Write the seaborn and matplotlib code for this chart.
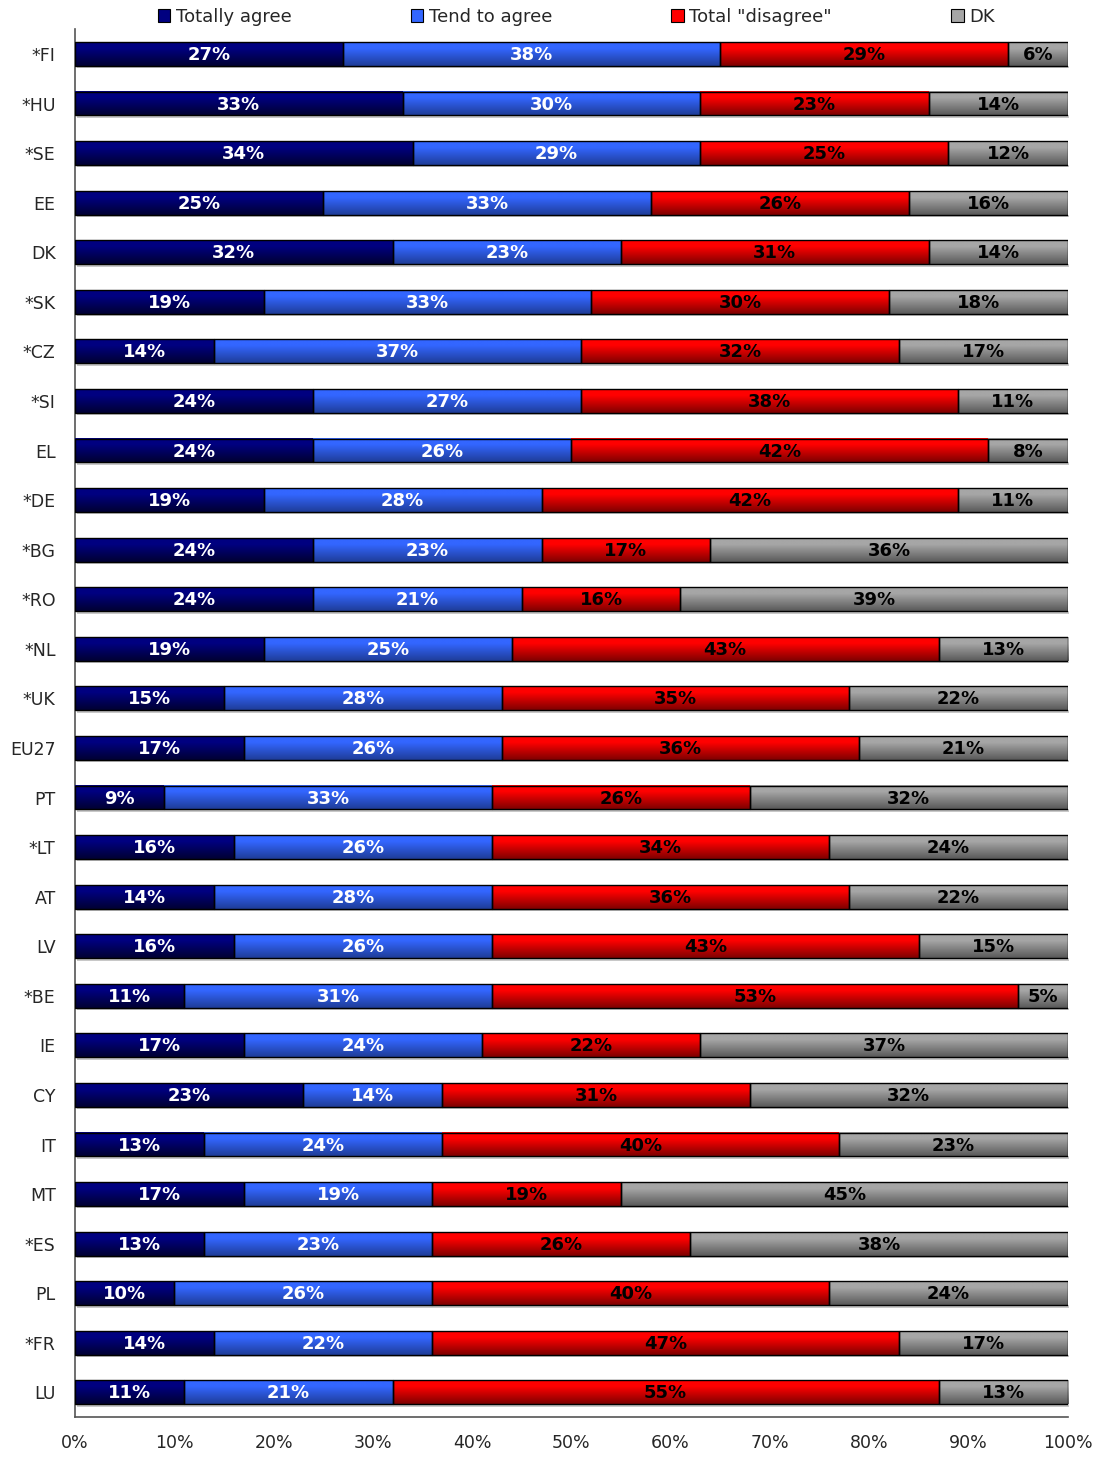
import numpy as np
import pandas as pd
import matplotlib
matplotlib.use("Agg")
import matplotlib.pyplot as plt
from matplotlib.patches import Patch
from matplotlib.colors import to_rgb
import seaborn as sns

countries = ["*FI", "*HU", "*SE", "EE", "DK", "*SK", "*CZ", "*SI", "EL", "*DE",
             "*BG", "*RO", "*NL", "*UK", "EU27", "PT", "*LT", "AT", "LV", "*BE",
             "IE", "CY", "IT", "MT", "*ES", "PL", "*FR", "LU"]
totally_agree = [27, 33, 34, 25, 32, 19, 14, 24, 24, 19, 24, 24, 19, 15, 17, 9, 16, 14, 16, 11,
                 17, 23, 13, 17, 13, 10, 14, 11]
tend_to_agree = [38, 30, 29, 33, 23, 33, 37, 27, 26, 28, 23, 21, 25, 28, 26, 33, 26, 28, 26, 31,
                 24, 14, 24, 19, 23, 26, 22, 21]
total_disagree = [29, 23, 25, 26, 31, 30, 32, 38, 42, 42, 17, 16, 43, 35, 36, 26, 34, 36, 43, 53,
                  22, 31, 40, 19, 26, 40, 47, 55]
dont_know = [6, 14, 12, 16, 14, 18, 17, 11, 8, 11, 36, 39, 13, 22, 21, 32, 24, 22, 15, 5,
             37, 32, 23, 45, 38, 24, 17, 13]

series_names = ["Totally agree", "Tend to agree", 'Total "disagree"', "DK"]
series_values = [totally_agree, tend_to_agree, total_disagree, dont_know]
top_colors = ["#000080", "#3366ff", "#ff0000", "#a6a6a6"]
bottom_colors = ["#000033", "#1f3d99", "#800000", "#5a5a5a"]
text_colors = ["white", "white", "black", "black"]

sns.set_theme(style="white")
plt.rcParams["font.family"] = ["DejaVu Sans"]

fig = plt.figure(figsize=(11.04, 14.58), dpi=100)
ax = fig.add_axes([0.068, 0.028, 0.899, 0.952])

df = pd.DataFrame({"country": countries})
left = np.zeros(len(countries))
for name, vals, tc in zip(series_names, series_values, top_colors):
    df["val"] = vals
    sns.barplot(data=df, x="val", y="country", orient="h", left=left.copy(),
                color=tc, saturation=1, width=0.48, edgecolor="black",
                linewidth=1.0, ax=ax, zorder=3)
    left = left + np.array(vals, dtype=float)

# gradient fill for each bar patch
patches = list(ax.patches)
n = len(countries)
for si in range(4):
    c1 = np.array(to_rgb(top_colors[si]))
    c2 = np.array(to_rgb(bottom_colors[si]))
    t = np.concatenate([np.zeros(8), np.linspace(0, 1, 24)])
    grad = (c1[None, :] * (1 - t[:, None]) + c2[None, :] * t[:, None])[:, None, :]
    for p in patches[si * n:(si + 1) * n]:
        x0, y0 = p.get_x(), p.get_y()
        w, h = p.get_width(), p.get_height()
        # shadow
        ax.fill_between([x0 + 0.2, x0 + w + 0.2], y0 + h, y0 + h + 0.05,
                        color="#c8c8c8", zorder=2, linewidth=0)
        ax.imshow(grad, extent=(x0, x0 + w, y0 + h, y0), aspect="auto",
                  zorder=3.5, interpolation="bilinear")
        p.set_facecolor("none")
        p.set_zorder(4)
        ax.text(x0 + w / 2, y0 + h / 2 + 0.02, f"{int(round(w))}%", ha="center",
                va="center", color=text_colors[si], fontsize=13,
                fontweight="bold", zorder=5)

ax.set_xlim(0, 100)
ax.set_ylim(n - 0.5, -0.5)
ax.set_xticks(np.arange(0, 101, 10))
ax.set_xticklabels([f"{v}%" for v in range(0, 101, 10)], fontsize=12.5)
ax.set_yticks(range(n))
ax.set_yticklabels(countries, fontsize=12.5)
ax.set_yticks(np.arange(-0.5, n, 1), minor=True)
ax.tick_params(axis="y", which="major", length=0, pad=14)
ax.tick_params(axis="y", which="minor", length=6, width=1, color="black", direction="out")
ax.tick_params(axis="x", which="major", length=6, width=1, color="black", direction="out", pad=6)
ax.set_xlabel("")
ax.set_ylabel("")
for s in ["top", "right"]:
    ax.spines[s].set_visible(False)
for s in ["left", "bottom"]:
    ax.spines[s].set_color("#555555")
    ax.spines[s].set_linewidth(1.2)

handles = [Patch(facecolor=c, edgecolor="black", linewidth=0.8) for c in top_colors]
fig.legend(handles, series_names, loc="upper left", bbox_to_anchor=(0.128, 1.006),
           ncol=4, frameon=False, fontsize=13, handlelength=0.7, handleheight=0.7,
           handletextpad=0.3, columnspacing=6.6)

fig.savefig("out.png", dpi=100)
